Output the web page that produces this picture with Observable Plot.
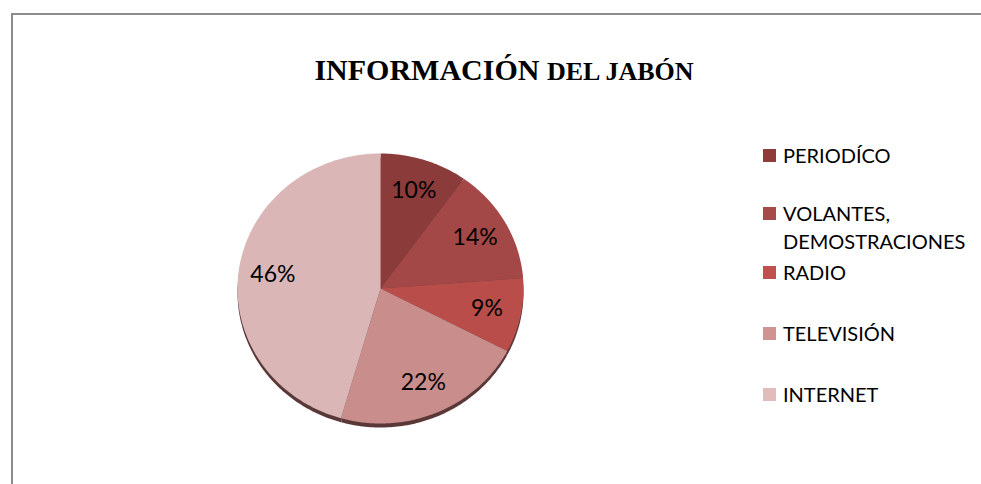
<!DOCTYPE html>
<html>
<head>
<meta charset="utf-8">
<script src="https://cdn.jsdelivr.net/npm/d3@7"></script>
<script src="https://cdn.jsdelivr.net/npm/@observablehq/plot@0.6"></script>
<style>
  html, body { margin: 0; padding: 0; background: #fff; overflow: hidden; }
  #wrap { position: relative; width: 981px; height: 484px; overflow: hidden; }
  #frame { position: absolute; left: 11px; top: 13px; width: 970px; height: 471px;
           border-left: 2px solid #8c8c8c; border-top: 2px solid #8c8c8c; box-sizing: border-box; }
  #title { position: absolute; left: 27px; width: 954px; top: 53px; text-align: center;
           font-family: "Liberation Serif", "Times New Roman", serif; font-weight: bold; color: #000; white-space: nowrap; font-size: 30px; }
  #title .small { font-size: 26px; }
  #chart { position: absolute; left: 0; top: 0; }
  #legend { position: absolute; left: 763px; top: 0; font-family: Lato, "Open Sans", sans-serif; font-size: 20px; color: #000; }
  .item { position: absolute; left: 0; white-space: nowrap; line-height: 28px; }
  .sw { position: absolute; left: 0; width: 13px; height: 13px; }
  .lab { position: absolute; left: 20px; }
</style>
</head>
<body>
<div id="wrap">
  <div id="frame"></div>
  <div id="chart"></div>
  <div id="title">INFORMACIÓN <span class="small">DEL JABÓN</span></div>
  <div id="legend"></div>
</div>
<script>
const categories = ["PERIODÍCO", "VOLANTES, DEMOSTRACIONES", "RADIO", "TELEVISIÓN", "INTERNET"];
const values = [10, 14, 9, 22, 46];
const labels = ["10%", "14%", "9%", "22%", "46%"];
const legendLines = [["PERIODÍCO"], ["VOLANTES,", "DEMOSTRACIONES"], ["RADIO"], ["TELEVISIÓN"], ["INTERNET"]];
const sliceColors = ["#8C3B3B", "#A34846", "#B94D4A", "#C98E8C", "#DAB7B6"];
const legendColors = ["#8E3B3A", "#A64B4A", "#C0504D", "#D09392", "#E2BBBB"];
const legendTops = [141, 199, 258, 319, 380];

const total = d3.sum(values);
let cum = 0;
const wedgePts = [];
const labelRows = [];
categories.forEach((cat, i) => {
  const a0 = cum / total * 2 * Math.PI;
  cum += values[i];
  const a1 = cum / total * 2 * Math.PI;
  const n = Math.max(2, Math.ceil((a1 - a0) / (Math.PI / 180)));
  wedgePts.push({cat, x: 0, y: 0});
  for (let k = 0; k <= n; k++) {
    const a = a0 + (a1 - a0) * k / n;
    wedgePts.push({cat, x: Math.sin(a), y: Math.cos(a)});
  }
  const am = (a0 + a1) / 2;
  labelRows.push({cat, text: labels[i], x: 0.76 * Math.sin(am), y: 0.76 * Math.cos(am)});
});

const chart = Plot.plot({
  width: 981,
  height: 484,
  marginLeft: 237,
  marginRight: 458,
  marginTop: 153,
  marginBottom: 61,
  x: {domain: [-1, 1], axis: null},
  y: {domain: [-1, 1], axis: null},
  color: {domain: categories, range: sliceColors},
  style: {fontFamily: "Lato, 'Open Sans', sans-serif", background: "transparent", overflow: "visible"},
  marks: [
    Plot.line(wedgePts, {x: "x", y: "y", z: "cat", fill: "#5a3838", stroke: "none", dy: 4}),
    Plot.line(wedgePts, {x: "x", y: "y", z: "cat", fill: "cat", stroke: "none"}),
    Plot.text(labelRows, {x: "x", y: "y", text: "text", fontSize: 23, fill: "#000"})
  ]
});
document.getElementById("chart").appendChild(chart);

const legend = document.getElementById("legend");
categories.forEach((cat, i) => {
  const item = document.createElement("div");
  item.className = "item";
  item.style.top = legendTops[i] + "px";
  const sw = document.createElement("div");
  sw.className = "sw";
  sw.style.background = legendColors[i];
  sw.style.top = "8px";
  const lab = document.createElement("div");
  lab.className = "lab";
  lab.innerHTML = legendLines[i].join("<br>");
  item.appendChild(sw);
  item.appendChild(lab);
  legend.appendChild(item);
});
</script>
</body>
</html>
